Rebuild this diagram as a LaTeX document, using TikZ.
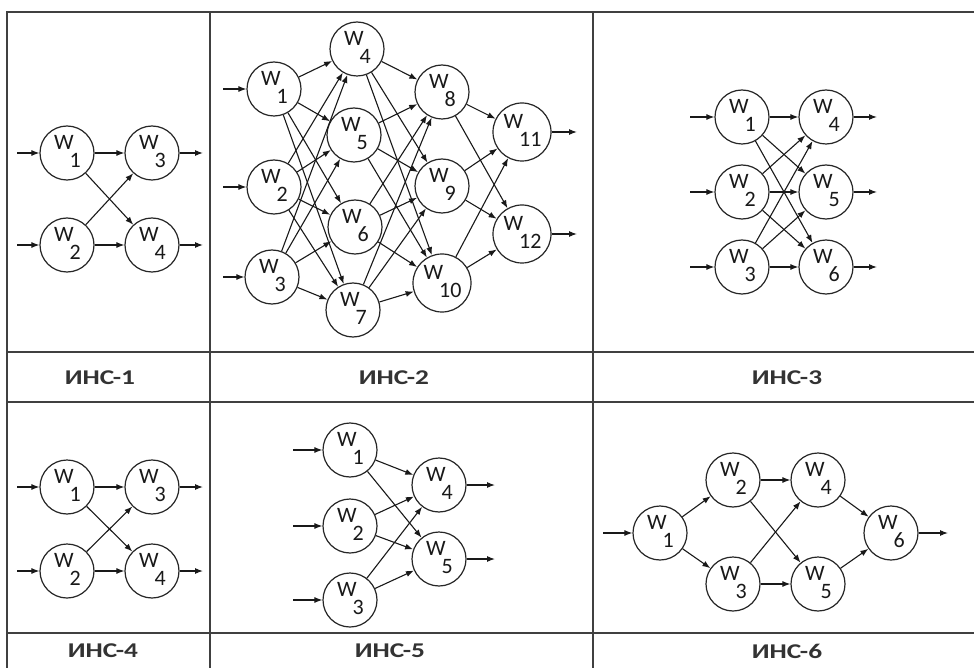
\documentclass[tikz,border=0pt]{standalone}
\usepackage{fontspec}
\setmainfont{Carlito}
\usetikzlibrary{arrows.meta}
\newcommand\wl[1]{\raisebox{0.3em}{W}\kern-4pt\raisebox{-0.5em}{#1}\kern-1pt\rule[-14.4pt]{0pt}{1pt}}
\newcommand\capt[1]{\scalebox{1.3}[1]{#1}}
\tikzset{
  neuron/.style={circle, draw=black!85, line width=1.2pt, minimum size=54pt, inner sep=0pt,
    font=\fontsize{22}{22}\selectfont, text=black!90},
  bigneuron/.style={neuron, minimum size=58pt},
  conn/.style={-{Latex[length=8pt,width=6pt]}, line width=1.1pt, draw=black!90},
  gridline/.style={line width=1.5pt, draw=black!75},
  captext/.style={font=\bfseries\fontsize{21}{21}\selectfont, text=black!80, inner sep=0pt}
}
\begin{document}
\begin{tikzpicture}[x=1pt,y=-1pt]
\useasboundingbox (0,0) rectangle (974,668);
\fill[white] (0,0) rectangle (974,668);
% table
\draw[gridline] (7,668) -- (7,12) -- (974,12);
\draw[gridline] (210,12) -- (210,668);
\draw[gridline] (593,12) -- (593,668);
\draw[gridline] (7,352) -- (974,352);
\draw[gridline] (7,402) -- (974,402);
\draw[gridline] (7,633) -- (974,633);
% captions
\node[captext] (t1) at (100,378) {\capt{ИНС-1}};
\node[captext] (t2) at (394,378) {\capt{ИНС-2}};
\node[captext] (t3) at (787,378) {\capt{ИНС-3}};
\node[captext] (t4) at (103,651) {\capt{ИНС-4}};
\node[captext] (t5) at (390,651) {\capt{ИНС-5}};
\node[captext] (t6) at (787,651) {\capt{ИНС-6}};

% ---------- Panel 1 ----------
\node[neuron] (a1) at (67,153) {\wl{1}};
\node[neuron] (a2) at (67,245) {\wl{2}};
\node[neuron] (a3) at (152,153) {\wl{3}};
\node[neuron] (a4) at (152,245) {\wl{4}};
\coordinate (ai1) at (17,153); \coordinate (ai2) at (17,245);
\coordinate (ao3) at (203,153); \coordinate (ao4) at (203,245);
\draw[conn] (ai1) -- (a1); \draw[conn] (ai2) -- (a2);
\draw[conn] (a3) -- (ao3); \draw[conn] (a4) -- (ao4);
\foreach \s in {1,2} \foreach \t in {3,4} \draw[conn] (a\s) -- (a\t);

% ---------- Panel 2 ----------
\node[neuron] (b1) at (274,89) {\wl{1}};
\node[neuron] (b2) at (274,187) {\wl{2}};
\node[neuron] (b3) at (272,277) {\wl{3}};
\node[neuron] (b4) at (357,49) {\wl{4}};
\node[neuron] (b5) at (354,135) {\wl{5}};
\node[neuron] (b6) at (355,227) {\wl{6}};
\node[neuron] (b7) at (353,310) {\wl{7}};
\node[neuron] (b8) at (442,92) {\wl{8}};
\node[neuron] (b9) at (442,186) {\wl{9}};
\node[bigneuron] (b10) at (442,283) {\wl{10}};
\node[bigneuron] (b11) at (522,132) {\wl{11}};
\node[bigneuron] (b12) at (522,234) {\wl{12}};
\coordinate (bi1) at (223,89); \coordinate (bi2) at (223,187); \coordinate (bi3) at (223,277);
\coordinate (bo11) at (577,132); \coordinate (bo12) at (577,234);
\draw[conn] (bi1) -- (b1); \draw[conn] (bi2) -- (b2); \draw[conn] (bi3) -- (b3);
\draw[conn] (b11) -- (bo11); \draw[conn] (b12) -- (bo12);
\foreach \s in {1,2,3} \foreach \t in {4,5,6,7} \draw[conn] (b\s) -- (b\t);
\foreach \s in {4,5,6,7} \foreach \t in {8,9,10} \draw[conn] (b\s) -- (b\t);
\foreach \s in {8,9,10} \foreach \t in {11,12} \draw[conn] (b\s) -- (b\t);

% ---------- Panel 3 ----------
\node[neuron] (c1) at (742,117) {\wl{1}};
\node[neuron] (c2) at (742,192) {\wl{2}};
\node[neuron] (c3) at (742,267) {\wl{3}};
\node[neuron] (c4) at (826,117) {\wl{4}};
\node[neuron] (c5) at (826,192) {\wl{5}};
\node[neuron] (c6) at (826,267) {\wl{6}};
\foreach \i/\y in {1/117,2/192,3/267} {
  \coordinate (ci\i) at (690,\y); \draw[conn] (ci\i) -- (c\i);
}
\foreach \i/\y in {4/117,5/192,6/267} {
  \coordinate (co\i) at (877,\y); \draw[conn] (c\i) -- (co\i);
}
\foreach \s in {1,2,3} \foreach \t in {4,5,6} \draw[conn] (c\s) -- (c\t);

% ---------- Panel 4 ----------
\node[neuron] (d1) at (67,487) {\wl{1}};
\node[neuron] (d2) at (67,571) {\wl{2}};
\node[neuron] (d3) at (152,487) {\wl{3}};
\node[neuron] (d4) at (152,571) {\wl{4}};
\coordinate (di1) at (17,487); \coordinate (di2) at (17,571);
\coordinate (do3) at (203,487); \coordinate (do4) at (203,571);
\draw[conn] (di1) -- (d1); \draw[conn] (di2) -- (d2);
\draw[conn] (d3) -- (do3); \draw[conn] (d4) -- (do4);
\foreach \s in {1,2} \foreach \t in {3,4} \draw[conn] (d\s) -- (d\t);

% ---------- Panel 5 ----------
\node[neuron] (e1) at (350,450) {\wl{1}};
\node[neuron] (e2) at (350,526) {\wl{2}};
\node[neuron] (e3) at (350,600) {\wl{3}};
\node[neuron] (e4) at (439,485) {\wl{4}};
\node[neuron] (e5) at (439,559) {\wl{5}};
\foreach \i/\y in {1/450,2/526,3/600} {
  \coordinate (ei\i) at (293,\y); \draw[conn] (ei\i) -- (e\i);
}
\foreach \i/\y in {4/485,5/559} {
  \coordinate (eo\i) at (495,\y); \draw[conn] (e\i) -- (eo\i);
}
\foreach \s in {1,2,3} \foreach \t in {4,5} \draw[conn] (e\s) -- (e\t);

% ---------- Panel 6 ----------
\node[neuron] (f1) at (660,533) {\wl{1}};
\node[neuron] (f2) at (733,480) {\wl{2}};
\node[neuron] (f3) at (733,584) {\wl{3}};
\node[neuron] (f4) at (818,480) {\wl{4}};
\node[neuron] (f5) at (818,584) {\wl{5}};
\node[neuron] (f6) at (891,533) {\wl{6}};
\coordinate (fi1) at (603,533); \coordinate (fo6) at (948,533);
\draw[conn] (fi1) -- (f1); \draw[conn] (f6) -- (fo6);
\draw[conn] (f1) -- (f2); \draw[conn] (f1) -- (f3);
\foreach \s in {2,3} \foreach \t in {4,5} \draw[conn] (f\s) -- (f\t);
\draw[conn] (f4) -- (f6); \draw[conn] (f5) -- (f6);
\end{tikzpicture}
\end{document}
